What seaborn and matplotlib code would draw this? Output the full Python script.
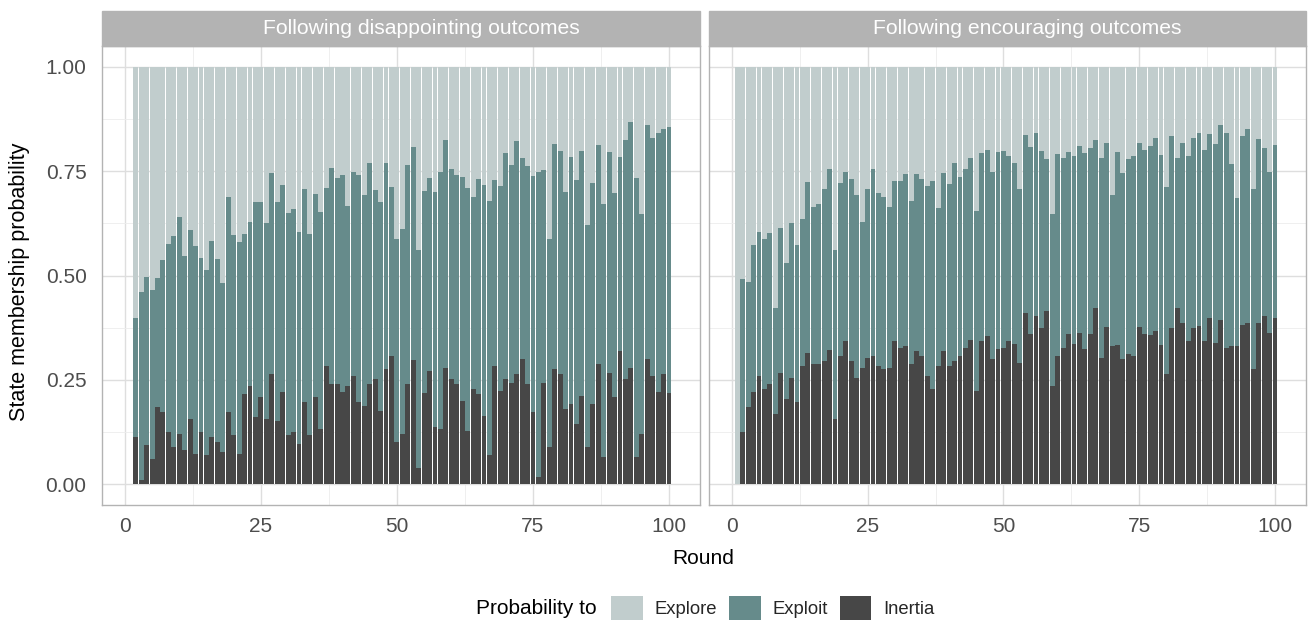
import matplotlib
matplotlib.use("Agg")
import matplotlib.pyplot as plt
import numpy as np
import pandas as pd
import seaborn as sns
from matplotlib.patches import Rectangle, Patch
from matplotlib.ticker import FixedLocator

# ---------------- data ----------------
panels = ["Following disappointing outcomes", "Following encouraging outcomes"]
states = ["Explore", "Exploit", "Inertia"]
state_colors = {"Explore": "#C1CDCD", "Exploit": "#668B8B", "Inertia": "#474747"}

rounds_disappointing = list(range(2, 101))
inertia_disappointing = [
    0.114, 0.011, 0.093, 0.061, 0.184, 0.174, 0.124, 0.090, 0.121, 0.083,
    0.155, 0.073, 0.126, 0.071, 0.114, 0.100, 0.076, 0.172, 0.117, 0.073,
    0.217, 0.234, 0.162, 0.208, 0.157, 0.265, 0.152, 0.222, 0.117, 0.124,
    0.097, 0.196, 0.117, 0.210, 0.131, 0.282, 0.241, 0.241, 0.222, 0.234,
    0.258, 0.198, 0.188, 0.241, 0.253, 0.176, 0.277, 0.306, 0.102, 0.119,
    0.241, 0.298, 0.038, 0.219, 0.270, 0.136, 0.131, 0.279, 0.251, 0.239,
    0.200, 0.128, 0.227, 0.215, 0.164, 0.071, 0.282, 0.224, 0.251, 0.243,
    0.263, 0.301, 0.241, 0.174, 0.018, 0.243, 0.090, 0.277, 0.265, 0.179,
    0.193, 0.145, 0.212, 0.088, 0.193, 0.289, 0.064, 0.267, 0.208, 0.318,
    0.253, 0.279, 0.064, 0.119, 0.301, 0.258, 0.222, 0.263, 0.219,
]
exploit_disappointing = [
    0.285, 0.450, 0.404, 0.405, 0.311, 0.364, 0.452, 0.505, 0.520, 0.464,
    0.455, 0.498, 0.417, 0.443, 0.469, 0.440, 0.407, 0.517, 0.481, 0.508,
    0.383, 0.395, 0.515, 0.469, 0.469, 0.481, 0.525, 0.495, 0.533, 0.536,
    0.508, 0.512, 0.483, 0.486, 0.522, 0.428, 0.517, 0.493, 0.519, 0.433,
    0.491, 0.543, 0.506, 0.529, 0.453, 0.501, 0.493, 0.407, 0.486, 0.493,
    0.524, 0.510, 0.524, 0.484, 0.464, 0.565, 0.618, 0.546, 0.505, 0.502,
    0.537, 0.582, 0.462, 0.517, 0.553, 0.608, 0.447, 0.491, 0.543, 0.522,
    0.560, 0.481, 0.522, 0.565, 0.731, 0.510, 0.498, 0.539, 0.534, 0.522,
    0.592, 0.584, 0.587, 0.534, 0.529, 0.524, 0.608, 0.529, 0.490, 0.467,
    0.572, 0.589, 0.670, 0.529, 0.560, 0.572, 0.620, 0.589, 0.637,
]

rounds_encouraging = list(range(1, 101))
inertia_encouraging = [
    0.000, 0.124, 0.184, 0.222, 0.258, 0.229, 0.239, 0.169, 0.267, 0.203,
    0.255, 0.196, 0.284, 0.315, 0.287, 0.289, 0.296, 0.322, 0.157, 0.308,
    0.344, 0.294, 0.255, 0.279, 0.303, 0.308, 0.282, 0.275, 0.279, 0.344,
    0.327, 0.330, 0.287, 0.318, 0.306, 0.260, 0.227, 0.282, 0.318, 0.284,
    0.296, 0.306, 0.327, 0.346, 0.224, 0.344, 0.356, 0.301, 0.325, 0.327,
    0.342, 0.337, 0.291, 0.411, 0.361, 0.404, 0.375, 0.416, 0.234, 0.308,
    0.327, 0.361, 0.337, 0.363, 0.325, 0.361, 0.423, 0.303, 0.377, 0.330,
    0.334, 0.301, 0.313, 0.306, 0.377, 0.361, 0.358, 0.366, 0.334, 0.263,
    0.373, 0.423, 0.385, 0.342, 0.375, 0.380, 0.342, 0.399, 0.339, 0.394,
    0.327, 0.332, 0.330, 0.382, 0.385, 0.275, 0.387, 0.404, 0.363, 0.399,
]
exploit_encouraging = [
    0.000, 0.368, 0.301, 0.352, 0.347, 0.359, 0.364, 0.252, 0.348, 0.328,
    0.371, 0.378, 0.352, 0.410, 0.378, 0.383, 0.412, 0.434, 0.405, 0.414,
    0.405, 0.438, 0.439, 0.350, 0.405, 0.448, 0.416, 0.414, 0.386, 0.383,
    0.400, 0.414, 0.392, 0.426, 0.426, 0.455, 0.500, 0.380, 0.428, 0.436,
    0.474, 0.431, 0.429, 0.436, 0.431, 0.450, 0.445, 0.448, 0.471, 0.472,
    0.445, 0.433, 0.417, 0.426, 0.447, 0.438, 0.424, 0.364, 0.414, 0.484,
    0.455, 0.435, 0.450, 0.448, 0.469, 0.445, 0.402, 0.479, 0.441, 0.364,
    0.462, 0.445, 0.467, 0.481, 0.441, 0.440, 0.453, 0.464, 0.455, 0.450,
    0.462, 0.359, 0.433, 0.445, 0.455, 0.462, 0.459, 0.441, 0.477, 0.467,
    0.515, 0.436, 0.356, 0.453, 0.467, 0.433, 0.441, 0.402, 0.386, 0.414,
]

x_ticks = [0, 25, 50, 75, 100]
y_ticks = [0.0, 0.25, 0.5, 0.75, 1.0]
y_tick_labels = ["0.00", "0.25", "0.50", "0.75", "1.00"]


def long_frame(panel, rounds, inertia, exploit):
    inertia = np.asarray(inertia)
    exploit = np.asarray(exploit)
    explore = np.clip(1.0 - inertia - exploit, 0, None)
    parts = []
    for state, vals in zip(states, [explore, exploit, inertia]):
        parts.append(pd.DataFrame({"panel": panel, "round": rounds,
                                   "state": state, "prob": vals}))
    return pd.concat(parts, ignore_index=True)


df = pd.concat([
    long_frame(panels[0], rounds_disappointing, inertia_disappointing, exploit_disappointing),
    long_frame(panels[1], rounds_encouraging, inertia_encouraging, exploit_encouraging),
], ignore_index=True)

# ---------------- plot ----------------
sns.set_theme(style="white")
plt.rcParams["font.family"] = ["Liberation Sans", "DejaVu Sans"]

W, H = 1312, 621
fig = plt.figure(figsize=(W / 100, H / 100), dpi=100)
panel_top, panel_bottom = 46, 505
boxes = [(102, 700), (709, 1306)]
axes = []
for (l, r) in boxes:
    axes.append(fig.add_axes([l / W, 1 - panel_bottom / H, (r - l) / W,
                              (panel_bottom - panel_top) / H]))

grid_major = "#DEDEDE"
grid_minor = "#EDEDED"
border = "#B3B3B3"
tick_size = 15

for i, (ax, panel) in enumerate(zip(axes, panels)):
    sub = df[df["panel"] == panel]
    sns.histplot(data=sub, x="round", weights="prob", hue="state",
                 hue_order=states, multiple="stack", discrete=True,
                 shrink=0.9, palette=state_colors, alpha=1, linewidth=0,
                 edgecolor="none", legend=False, ax=ax)
    ax.set_xlim(-4.2, 105.7)
    ax.set_ylim(-0.05, 1.05)
    ax.set_axisbelow(True)
    ax.xaxis.set_major_locator(FixedLocator(x_ticks))
    ax.xaxis.set_minor_locator(FixedLocator([12.5, 37.5, 62.5, 87.5]))
    ax.yaxis.set_major_locator(FixedLocator(y_ticks))
    ax.yaxis.set_minor_locator(FixedLocator([0.125, 0.375, 0.625, 0.875]))
    ax.grid(which="major", color=grid_major, linewidth=1.0)
    ax.grid(which="minor", color=grid_minor, linewidth=0.6)
    for s in ax.spines.values():
        s.set_color(border)
        s.set_linewidth(1.0)
    ax.tick_params(axis="x", which="major", length=3.6, width=1.0, color=border,
                   labelsize=tick_size, labelcolor="#4D4D4D", pad=5)
    ax.tick_params(which="minor", length=0)
    if i == 0:
        ax.set_yticklabels(y_tick_labels)
        ax.tick_params(axis="y", which="major", length=3.6, width=1.0, color=border,
                       labelsize=tick_size, labelcolor="#4D4D4D", pad=7.5)
    else:
        ax.tick_params(axis="y", which="major", length=0, labelleft=False)
    ax.set_xlabel("")
    ax.set_ylabel("")
    # strip
    strip_h = 35 / (panel_bottom - panel_top)
    ax.add_patch(Rectangle((0, 1), 1, strip_h, transform=ax.transAxes,
                           facecolor=border, edgecolor=border, linewidth=1.0,
                           clip_on=False, zorder=5))
    x_center = 0.5 + 20 / (boxes[i][1] - boxes[i][0])
    ax.text(x_center, 1 + strip_h / 2, panel, transform=ax.transAxes, ha="center",
            va="center", color="white", fontsize=15.2, zorder=6)

fig.text(20 / W, 1 - 282 / H, "State membership probability", rotation=90,
         ha="center", va="center", fontsize=15.5, color="black")
fig.text(703 / W, 1 - 559 / H, "Round", ha="center", va="center",
         fontsize=15, color="black")

# legend
fig.text(476 / W, 1 - 608 / H, "Probability to", ha="left", va="center",
         fontsize=15, color="black")
handles = [Patch(facecolor=state_colors[s], edgecolor="none", label=s) for s in states]
fig.legend(handles=handles, ncol=3, loc="center left",
           bbox_to_anchor=(611 / W, 1 - 608 / H), frameon=False, fontsize=13.3,
           handlelength=1.72, handleheight=1.55, handletextpad=0.66,
           columnspacing=0.62, borderpad=0, borderaxespad=0)

fig.savefig("out.png", dpi=100)
